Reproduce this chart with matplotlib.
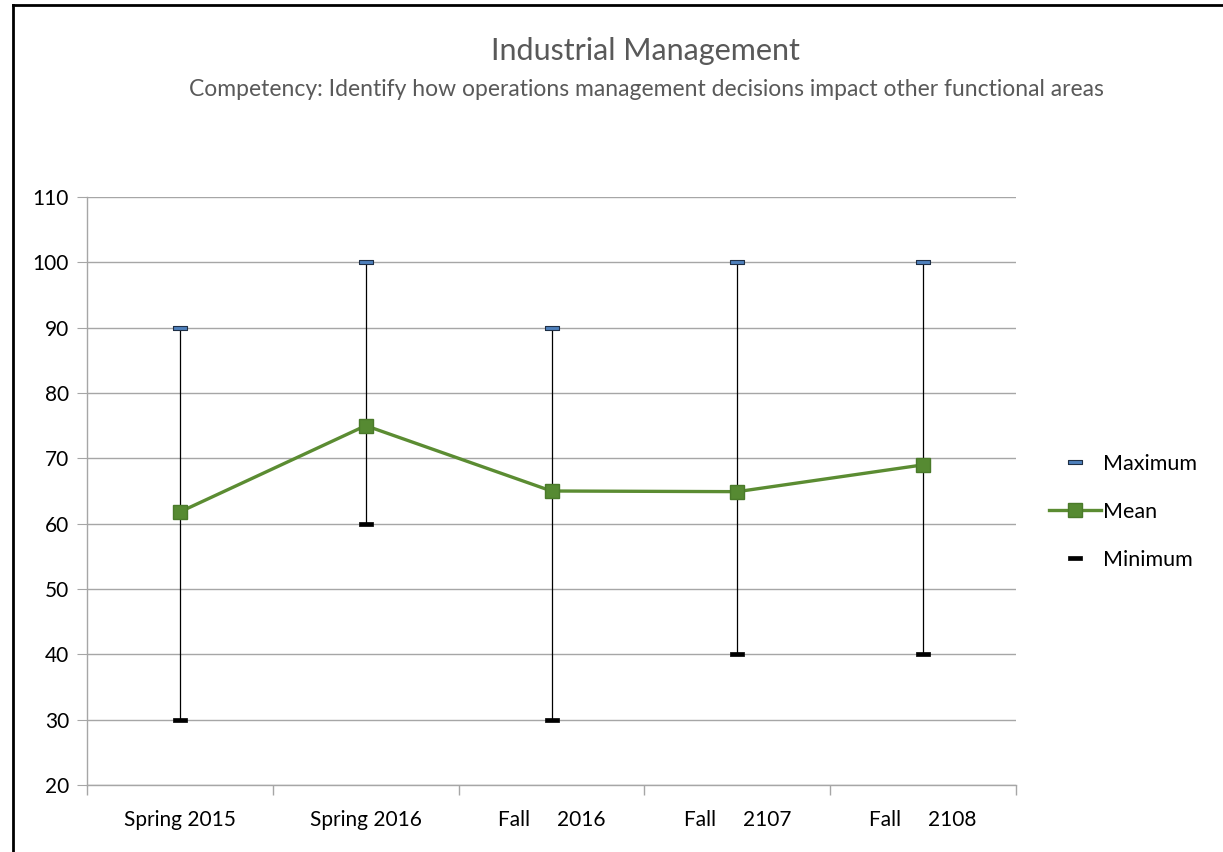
import matplotlib
matplotlib.use("Agg")
import matplotlib.pyplot as plt
from matplotlib.lines import Line2D

categories = ["Spring 2015", "Spring 2016", "Fall     2016", "Fall     2107", "Fall     2108"]
maximum = [90, 100, 90, 100, 100]
mean = [61.8, 75, 65, 64.9, 69]
minimum = [30, 60, 30, 40, 40]
yticks = [20, 30, 40, 50, 60, 70, 80, 90, 100, 110]

plt.rcParams['font.family'] = ['Lato', 'DejaVu Sans']

fig = plt.figure(figsize=(12.23, 8.52), dpi=100)
ax = fig.add_axes([87/1223, 1-785/852, (1016-87)/1223, (785-197)/852])

x = list(range(len(categories)))
grid_c = "#a6a6a6"

ax.vlines(x, minimum, maximum, color="black", lw=0.9, zorder=2)
bar = [(-3, -1), (3, -1), (3, 1), (-3, 1), (-3, -1)]
ax.plot(x, maximum, ls="none", marker=bar, ms=10, mfc="#4f81bd", mec="#1f2f45", mew=0.8, zorder=4, label="Maximum")
ax.plot(x, mean, color="#5b8c32", lw=2.4, marker="s", ms=10, mfc="#568a32", mec="#4a7a2a", zorder=5, label="Mean")
ax.plot(x, minimum, ls="none", marker=bar, ms=10, mfc="black", mec="black", mew=0.5, zorder=4, label="Minimum")

ax.set_xlim(-0.5, len(categories) - 0.5)
ax.set_ylim(20, 110)
ax.set_yticks(yticks)
ax.set_xticks(x)
ax.set_xticklabels(categories, fontsize=15)
ax.set_xticks([i - 0.5 for i in range(len(categories) + 1)], minor=True)
ax.tick_params(axis="x", which="major", length=0, pad=18)
ax.tick_params(axis="x", which="minor", length=7, color=grid_c, width=1)
ax.tick_params(axis="y", length=7, color=grid_c, labelsize=15, pad=6)
ax.yaxis.grid(True, color=grid_c, lw=1)
ax.set_axisbelow(True)
for s in ["top", "right"]:
    ax.spines[s].set_visible(False)
for s in ["left", "bottom"]:
    ax.spines[s].set_color(grid_c)
    ax.spines[s].set_linewidth(1)

fig.text(645/1223, 1-51/852, "Industrial Management", ha="center", va="center", fontsize=22, color="#595959")
fig.text(646/1223, 1-90/852, "Competency: Identify how operations management decisions impact other functional areas",
         ha="center", va="center", fontsize=16.5, color="#595959")

leg = ax.legend(loc="center left", bbox_to_anchor=(1.015, 0.465), frameon=False, fontsize=15.5,
                labelspacing=1.3, handlelength=2.4, handletextpad=0.1)

# border of the image frame
fig.add_artist(Line2D([13/1223, 13/1223], [0, 1-5/852], color="black", lw=2, transform=fig.transFigure))
fig.add_artist(Line2D([13/1223, 1], [1-5/852, 1-5/852], color="black", lw=2, transform=fig.transFigure))

fig.savefig("out.png", dpi=100)
